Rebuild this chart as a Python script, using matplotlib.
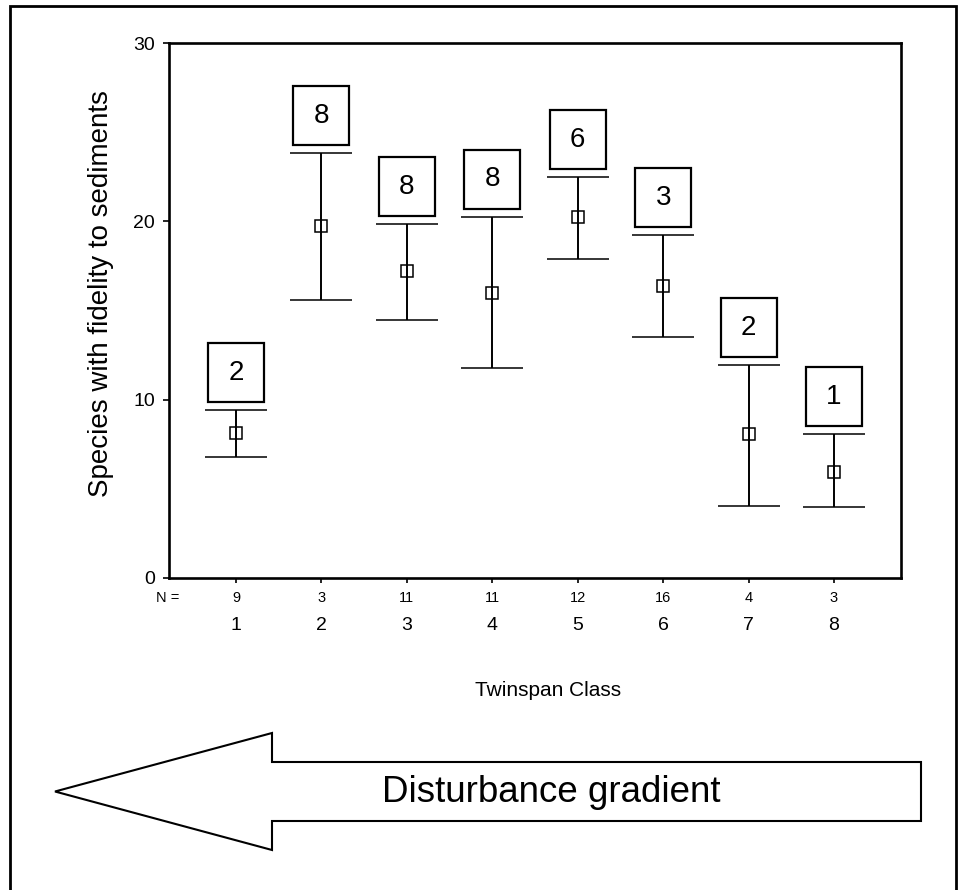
import matplotlib
matplotlib.use("Agg")
import matplotlib.pyplot as plt
from matplotlib.patches import Rectangle, Polygon
import numpy as np

plt.rcParams['font.family'] = ['Liberation Sans', 'DejaVu Sans']

# ---- data ----
classes = [1, 2, 3, 4, 5, 6, 7, 8]
n_values = [9, 3, 11, 11, 12, 16, 4, 3]
means = [8.15, 19.72, 17.2, 16.0, 20.26, 16.35, 8.06, 5.96]
upper = [9.41, 23.83, 19.85, 20.25, 22.46, 19.22, 11.94, 8.06]
lower = [6.79, 15.6, 14.45, 11.8, 17.9, 13.52, 4.05, 3.98]
box_labels = ["2", "8", "8", "8", "6", "3", "2", "1"]
y_ticks = [0, 10, 20, 30]

W, H = 960, 890
fig = plt.figure(figsize=(W / 100, H / 100), dpi=100)

def fx(px):
    return px / W

def fy(py):
    return 1 - py / H

ax_l, ax_r, ax_t, ax_b = 169, 901, 43, 578
ax = fig.add_axes([fx(ax_l), fy(ax_b), (ax_r - ax_l) / W, (ax_b - ax_t) / H])

x = np.array(classes, dtype=float)
m = np.array(means)
up = np.array(upper)
lo = np.array(lower)

ax.errorbar(x, m, yerr=[m - lo, up - m], fmt='s', color='black',
            markersize=8.5, markerfacecolor='none', markeredgewidth=1.1,
            ecolor='black', elinewidth=1.4, capsize=22, capthick=1.5)

ax.set_xlim(0.216, 8.784)
ax.set_ylim(0, 30)
ax.set_yticks(y_ticks)
ax.set_yticklabels([str(v) for v in y_ticks], fontsize=14)
ax.set_xticks(classes)
ax.set_xticklabels([])
ax.tick_params(axis='y', direction='out', length=4.5, width=1.2, pad=5.5)
ax.tick_params(axis='x', direction='out', length=3.5, width=1.2)
for s in ax.spines.values():
    s.set_linewidth(1.9)

# number boxes above upper caps
px_per_x = (ax_r - ax_l) / (8.784 - 0.216)
px_per_y = (ax_b - ax_t) / 30.0
bw = 56 / px_per_x
bh = 59 / px_per_y
gap = 8 / px_per_y
for xi, ui, lab in zip(x, up, box_labels):
    r = Rectangle((xi - bw / 2, ui + gap), bw, bh, fill=False,
                  edgecolor='black', linewidth=1.6, clip_on=False)
    ax.add_patch(r)
    ax.text(xi, ui + gap + bh / 2, lab, ha='center', va='center', fontsize=20)

# N row and class labels
xt = ax.get_xaxis_transform()
for xi, n in zip(x, n_values):
    ax.text(xi, -(597.5 - ax_b) / (ax_b - ax_t), str(n), transform=xt,
            ha='center', va='center', fontsize=10.5)
    ax.text(xi, -(626 - ax_b) / (ax_b - ax_t), str(int(xi)), transform=xt,
            ha='center', va='center', fontsize=14)
fig.text(fx(167.5), fy(597.5), "N =", ha='center', va='center', fontsize=10.5)

fig.text(fx(548), fy(690), "Twinspan Class", ha='center', va='center', fontsize=15)
fig.text(fx(101), fy(294), "Species with fidelity to sediments", rotation=90,
         ha='center', va='center', fontsize=20)

# Disturbance arrow
pts = [(55, 791.5), (272, 733), (272, 762), (921, 762), (921, 821),
       (272, 821), (272, 850)]
arrow = Polygon([(fx(a), fy(b)) for a, b in pts], closed=True, fill=False,
                edgecolor='black', linewidth=1.5, transform=fig.transFigure,
                joinstyle='miter')
fig.add_artist(arrow)
fig.text(fx(382), fy(793), "Disturbance gradient", ha='left', va='center',
         fontsize=26.5)

# outer frame
frame = Rectangle((fx(9.7), fy(920)), fx(956) - fx(9.7), fy(6) - fy(920),
                  fill=False, edgecolor='black', linewidth=2.0,
                  transform=fig.transFigure, clip_on=False)
fig.add_artist(frame)

fig.savefig("out.png", dpi=100)
